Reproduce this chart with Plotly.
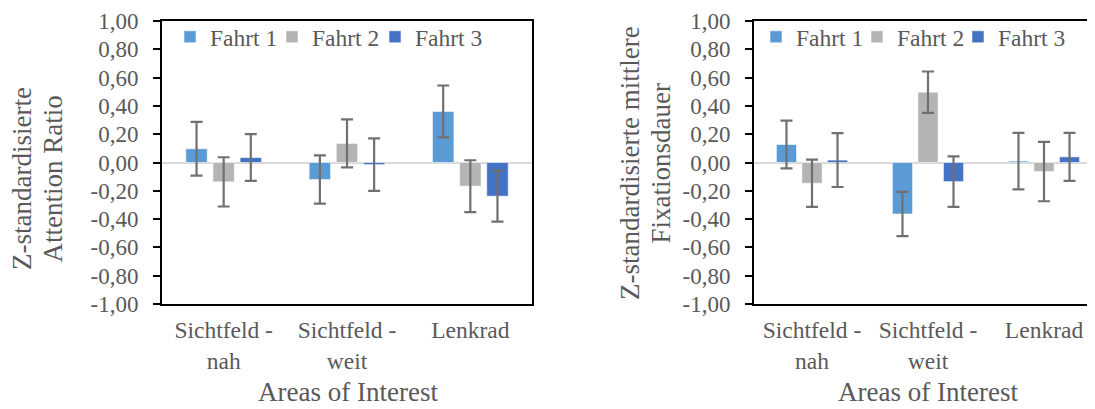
import plotly.graph_objects as go

categories = ["Sichtfeld -<br>nah", "Sichtfeld -<br>weit", "Lenkrad"]
series_names = ["Fahrt 1", "Fahrt 2", "Fahrt 3"]
colors = ["#5B9BD5", "#B4B4B4", "#4472C4"]

# Left chart: Z-standardisierte Attention Ratio
ar_fahrt1 = [0.097, -0.12, 0.361]
ar_fahrt2 = [-0.137, 0.135, -0.167]
ar_fahrt3 = [0.035, -0.015, -0.238]
ar_err1 = [0.19, 0.17, 0.183]
ar_err2 = [0.174, 0.17, 0.183]
ar_err3 = [0.165, 0.185, 0.18]

# Right chart: Z-standardisierte mittlere Fixationsdauer
fd_fahrt1 = [0.127, -0.364, 0.01]
fd_fahrt2 = [-0.147, 0.497, -0.064]
fd_fahrt3 = [0.017, -0.135, 0.04]
fd_err1 = [0.169, 0.156, 0.2]
fd_err2 = [0.167, 0.146, 0.21]
fd_err3 = [0.19, 0.178, 0.17]

y_tickvals = [-1.0, -0.8, -0.6, -0.4, -0.2, 0.0, 0.2, 0.4, 0.6, 0.8, 1.0]
y_ticktext = ["-1,00", "-0,80", "-0,60", "-0,40", "-0,20", "0,00",
              "0,20", "0,40", "0,60", "0,80", "1,00"]

left_title_lines = ["Z-standardisierte", "Attention Ratio"]
right_title_lines = ["Z-standardisierte mittlere", "Fixationsdauer"]
x_title = "Areas of Interest"

# The page body has an 8px default margin: size the figure so that it ends
# at the window edge, and express positions in window pixels.
OFF = 8
SW, SH = 1095, 409
W, H = SW - OFF, SH - OFF
FONT = "Liberation Serif"
TXT = "#595959"

def px_x(p):
    return (p - OFF) / W

def px_y(p):
    return (H - (p - OFF)) / H

fig = go.Figure()

left_vals = [ar_fahrt1, ar_fahrt2, ar_fahrt3]
left_errs = [ar_err1, ar_err2, ar_err3]
right_vals = [fd_fahrt1, fd_fahrt2, fd_fahrt3]
right_errs = [fd_err1, fd_err2, fd_err3]

# one legend entry per series and chart, placed like the Excel legend
left_legend_x = [170, 272, 375]
right_legend_x = [756, 857, 958]

def add_series(vals, errs, xa, ya, legend_ids):
    for i, name in enumerate(series_names):
        fig.add_trace(go.Bar(
            x=categories, y=vals[i], name=name, xaxis=xa, yaxis=ya,
            marker=dict(color=colors[i],
                        line=dict(color="rgba(255,255,255,0.7)", width=0.8)),
            error_y=dict(type="data", array=errs[i], symmetric=True,
                         color="#707070", thickness=2.2, width=6),
            legend=legend_ids[i], offsetgroup=str(i), showlegend=True))

left_ids = ["legend", "legend2", "legend3"]
right_ids = ["legend4", "legend5", "legend6"]
add_series(left_vals, left_errs, "x", "y", left_ids)
add_series(right_vals, right_errs, "x2", "y2", right_ids)

y_dom = [px_y(304), px_y(21)]

yaxis_common = dict(
    range=[-1, 1], tickvals=y_tickvals, ticktext=y_ticktext,
    showgrid=False, zeroline=True, zerolinecolor="#D9D9D9", zerolinewidth=2,
    showline=True, linecolor="black", linewidth=2,
    ticks="outside", ticklen=7, tickcolor="black", tickwidth=1.5,
    tickfont=dict(family=FONT, size=23, color=TXT),
    ticklabelstandoff=10, domain=y_dom, automargin=False,
)
xaxis_common = dict(
    type="category", showgrid=False, showline=True, linecolor="black",
    linewidth=2, ticks="", tickfont=dict(family=FONT, size=23.5, color=TXT),
    ticklabelstandoff=4, automargin=False,
)

def legend_at(x):
    return dict(orientation="h", xanchor="left", yanchor="middle",
                x=px_x(x), y=px_y(37), bgcolor="rgba(0,0,0,0)",
                font=dict(family=FONT, size=23.5, color=TXT), itemwidth=30,
                visible=True)

legends = {}
for lid, lx in zip(left_ids + right_ids, left_legend_x + right_legend_x):
    legends[lid] = legend_at(lx)

def ann(text, x, y, size=27, angle=0):
    return dict(text=text, textangle=angle, xref="paper", yref="paper",
                x=px_x(x), y=px_y(y), xanchor="center", yanchor="middle",
                showarrow=False, font=dict(family=FONT, size=size, color=TXT))

fig.update_layout(
    template="none",
    width=W, height=H, autosize=False,
    margin=dict(l=0, r=0, t=0, b=0, autoexpand=False),
    paper_bgcolor="white", plot_bgcolor="white",
    font=dict(family=FONT, color=TXT),
    showlegend=True,
    barmode="group", bargap=0.34, bargroupgap=0.21,
    xaxis=dict(**xaxis_common, domain=[px_x(162), px_x(532)], anchor="y",
               mirror=True, range=[-0.5, 2.5]),
    yaxis=dict(**yaxis_common, anchor="x", mirror=True),
    xaxis2=dict(**xaxis_common, domain=[px_x(754), 1.0], anchor="y2",
                mirror=True, range=[-0.5, -0.5 + (SW - 754) / 116.0]),
    yaxis2=dict(**yaxis_common, anchor="x2", mirror=False),
    annotations=[
        ann(left_title_lines[0], 22, 179, angle=-90),
        ann(left_title_lines[1], 52.5, 179, angle=-90),
        ann(right_title_lines[0], 629.5, 163.5, angle=-90),
        ann(right_title_lines[1], 660, 163.5, angle=-90),
        ann(x_title, 348, 392),
        ann(x_title, 928, 392),
    ],
    **legends,
)

fig.write_html("out.html")
